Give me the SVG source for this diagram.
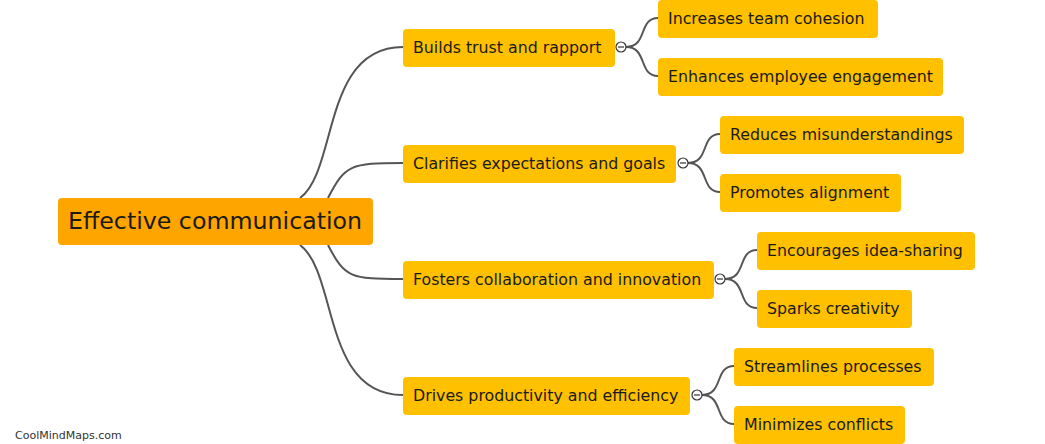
<svg xmlns="http://www.w3.org/2000/svg" width="1045" height="444" viewBox="0 0 1045 444">
<style>
.root rect{fill:#FFA500;}
.n rect{fill:#FFC000;}
text{font-family:"DejaVu Sans",Verdana,sans-serif;fill:#1a1a1a;dominant-baseline:central;}
.root text{font-size:23.7px;}
.n text{font-size:15.8px;}
.c path{fill:none;stroke:#555;stroke-width:2;}
.t circle{fill:#fff;stroke:#333;stroke-width:1.2;}
.t line{stroke:#333;stroke-width:1.2;}
.wm{font-size:11px;fill:#333;dominant-baseline:auto;}
</style>
<rect width="1045" height="444" fill="#fff"/>
<g id="connectors" class="c">
<path d="M300,198 C338,170 322,47 403,47"/>
<path d="M328,198 C345,165 350,163 403,163"/>
<path d="M328,245 C345,278 350,279 403,279"/>
<path d="M300,245 C338,273 322,395 403,395"/>
<path d="M626,47 C648,47 638,18 658,18"/>
<path d="M626,47 C648,47 638,76 658,76"/>
<path d="M688,163 C710,163 700,134 720,134"/>
<path d="M688,163 C710,163 700,192 720,192"/>
<path d="M725,279 C747,279 737,250 757,250"/>
<path d="M725,279 C747,279 737,308 757,308"/>
<path d="M702,395 C724,395 714,366 734,366"/>
<path d="M702,395 C724,395 714,424 734,424"/>
</g>
<g id="root" class="root"><rect x="58" y="198" width="315" height="47" rx="4"/><text x="68" y="221">Effective communication</text></g>
<g id="n1" class="n"><rect x="403" y="29" width="212" height="38" rx="4"/><text x="413" y="47">Builds trust and rapport</text></g>
<g id="n2" class="n"><rect x="403" y="145" width="273" height="38" rx="4"/><text x="413" y="163">Clarifies expectations and goals</text></g>
<g id="n3" class="n"><rect x="403" y="261" width="311" height="38" rx="4"/><text x="413" y="279">Fosters collaboration and innovation</text></g>
<g id="n4" class="n"><rect x="403" y="377" width="287" height="38" rx="4"/><text x="413" y="395">Drives productivity and efficiency</text></g>
<g id="n1a" class="n"><rect x="658" y="0" width="220" height="38" rx="4"/><text x="668" y="18">Increases team cohesion</text></g>
<g id="n1b" class="n"><rect x="658" y="58" width="285" height="38" rx="4"/><text x="668" y="76">Enhances employee engagement</text></g>
<g id="n2a" class="n"><rect x="720" y="116" width="244" height="38" rx="4"/><text x="730" y="134">Reduces misunderstandings</text></g>
<g id="n2b" class="n"><rect x="720" y="174" width="181" height="38" rx="4"/><text x="730" y="192">Promotes alignment</text></g>
<g id="n3a" class="n"><rect x="757" y="232" width="218" height="38" rx="4"/><text x="767" y="250">Encourages idea-sharing</text></g>
<g id="n3b" class="n"><rect x="757" y="290" width="155" height="38" rx="4"/><text x="767" y="308">Sparks creativity</text></g>
<g id="n4a" class="n"><rect x="734" y="348" width="200" height="38" rx="4"/><text x="744" y="366">Streamlines processes</text></g>
<g id="n4b" class="n"><rect x="734" y="406" width="171" height="38" rx="4"/><text x="744" y="424">Minimizes conflicts</text></g>
<g id="toggles" class="t">
<circle cx="621" cy="47" r="5"/><line x1="618" y1="47" x2="624" y2="47"/>
<circle cx="683" cy="163" r="5"/><line x1="680" y1="163" x2="686" y2="163"/>
<circle cx="720" cy="279" r="5"/><line x1="717" y1="279" x2="723" y2="279"/>
<circle cx="697" cy="395" r="5"/><line x1="694" y1="395" x2="700" y2="395"/>
</g>
<text class="wm" x="15" y="439">CoolMindMaps.com</text>
</svg>
